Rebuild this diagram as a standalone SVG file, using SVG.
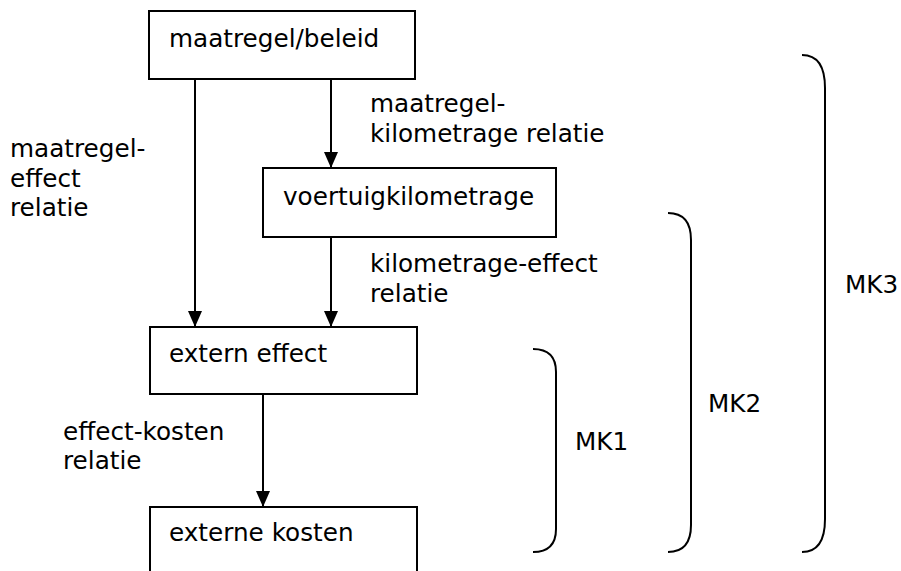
<svg xmlns="http://www.w3.org/2000/svg" width="901" height="571" viewBox="0 0 901 571">
<defs>
<style>
text{font-family:"DejaVu Sans","Verdana",sans-serif;font-size:24.7px;fill:#000}
.box{fill:#fff;stroke:#000;stroke-width:2}
.ln{fill:none;stroke:#000;stroke-width:2}
</style>
<marker id="ah" markerWidth="16" markerHeight="14" refX="16" refY="7" orient="auto" markerUnits="userSpaceOnUse" viewBox="0 0 16 14">
<path d="M0,0 L16,7 L0,14 Z" fill="#000"/>
</marker>
</defs>
<rect width="901" height="571" fill="#fff"/>
<g id="connectors">
<line class="ln" x1="195" y1="79" x2="195" y2="327" marker-end="url(#ah)"/>
<line class="ln" x1="331" y1="79" x2="331" y2="168" marker-end="url(#ah)"/>
<line class="ln" x1="331" y1="237" x2="331" y2="327" marker-end="url(#ah)"/>
<line class="ln" x1="263" y1="394" x2="263" y2="507" marker-end="url(#ah)"/>
</g>
<g id="n1"><rect class="box" x="149" y="11" width="266" height="68"/><text x="169" y="47">maatregel/beleid</text></g>
<g id="n2"><rect class="box" x="263" y="168" width="293" height="69"/><text x="283" y="205">voertuigkilometrage</text></g>
<g id="n3"><rect class="box" x="150" y="327" width="267" height="67"/><text x="169" y="362">extern effect</text></g>
<g id="n4"><rect class="box" x="150" y="507" width="267" height="90"/><text x="169" y="541">externe kosten</text></g>
<g id="labels">
<text x="370" y="112">maatregel-</text>
<text x="370" y="142">kilometrage relatie</text>
<text x="10" y="157">maatregel-</text>
<text x="10" y="187">effect</text>
<text x="10" y="216">relatie</text>
<text x="370" y="272">kilometrage-effect</text>
<text x="370" y="302">relatie</text>
<text x="63" y="440">effect-kosten</text>
<text x="63" y="469">relatie</text>
</g>
<g id="mk1"><path class="ln" d="M533,349 Q556,349 556,372 L556,529 Q556,552 533,552"/><text x="575" y="450">MK1</text></g>
<g id="mk2"><path class="ln" d="M668,213 Q691,213 691,240 L691,525 Q691,552 668,552"/><text x="708" y="412">MK2</text></g>
<g id="mk3"><path class="ln" d="M802,55 Q825,55 825,88 L825,519 Q825,552 802,552"/><text x="845" y="293">MK3</text></g>
</svg>
